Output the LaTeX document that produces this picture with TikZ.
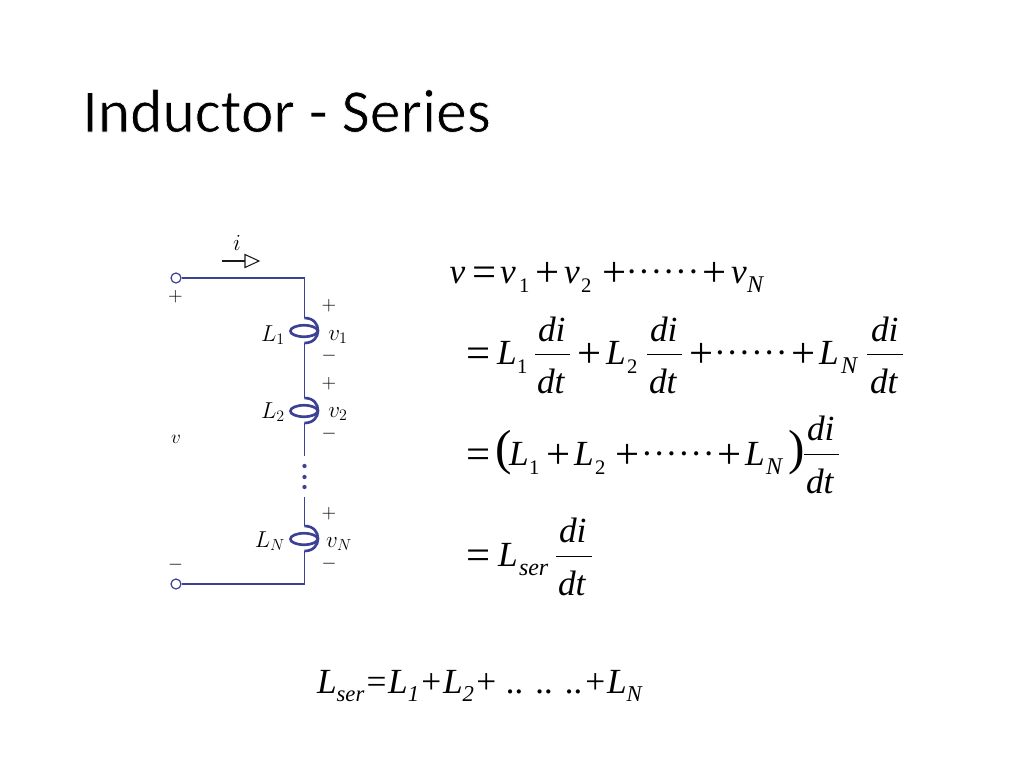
\documentclass[tikz,border=0pt]{standalone}
\usepackage{fontspec}
\setmainfont{Liberation Serif}
\newfontfamily\titlefont{Carlito}
\definecolor{wire}{HTML}{3C4196}
\definecolor{ink}{HTML}{1A1A1A}
\tikzset{
  x=0.75pt,y=-0.75pt,
  eq/.style={anchor=base west,inner sep=0pt,outer sep=0pt,text=black,font=\fontsize{26.5}{30}\selectfont},
  op/.style={eq,font=\fontsize{32}{34}\selectfont,yshift=-2.6pt},
  eqsub/.style={anchor=base west,inner sep=0pt,outer sep=0pt,text=black,font=\fontsize{15.5}{18}\selectfont},
  eqsubi/.style={eqsub,font=\fontsize{18}{20}\selectfont\itshape},
  bot/.style={anchor=base west,inner sep=0pt,outer sep=0pt,text=black,font=\fontsize{26.5}{30}\selectfont},
  ckt/.style={inner sep=0pt,outer sep=0pt,text=black,font=\fontsize{14}{16}\selectfont},
  cktb/.style={inner sep=0pt,outer sep=0pt,text=black,font=\fontsize{17}{19}\selectfont},
  wireline/.style={draw=wire,line width=1.1pt},
  coilline/.style={draw=wire,line width=2pt},
  term/.style={circle,draw=wire,line width=0.9pt,fill=white,minimum size=7.5pt,inner sep=0pt},
  bar/.style={draw=black,line width=0.75pt},
  dotn/.style={circle,fill=wire,minimum size=3.2pt,inner sep=0pt}
}
\newcommand{\sixdots}{\textperiodcentered\kern0.45pt\textperiodcentered\kern0.45pt\textperiodcentered\kern0.45pt\textperiodcentered\kern0.45pt\textperiodcentered\kern0.45pt\textperiodcentered}
\newcommand{\coilpath}[2]{% x ytop
  \draw[coilline] (#1,#2) .. controls (#1+9,#2) and (#1+13.5,#2+6) .. (#1+13.5,#2+12.5)
    .. controls (#1+13.5,#2+19) and (#1+9,#2+25) .. (#1,#2+25);
  \draw[coilline] (#1-0.5,#2+13) ellipse [x radius=10.2pt,y radius=4.3pt];}
\newcommand{\bsub}[1]{\raisebox{-6pt}{\fontsize{17}{19}\selectfont #1}}
\begin{document}
\begin{tikzpicture}
\useasboundingbox (0,0) rectangle (1024,768);
\fill[white] (0,0) rectangle (1024,768);
% title
\node[anchor=base west,inner sep=0pt,text=black,font=\titlefont\fontsize{46.2}{50}\selectfont] (title) at (82,132) {\special{pdf:code q 2 Tr 0.5 w 1 1 1 RG}Inductor - Series\special{pdf:code Q}};
% circuit nodes
\node[term] (t1) at (176,278) {};
\node[term] (t2) at (176,584) {};
\coordinate (cTop) at (304.5,278);
\coordinate (cBot) at (304.5,584);
\coordinate (a1) at (304.5,318);
\coordinate (b1) at (304.5,343);
\coordinate (a2) at (304.5,398);
\coordinate (b2) at (304.5,423);
\coordinate (w1) at (304.5,456);
\coordinate (w2) at (304.5,497);
\coordinate (a3) at (304.5,526);
\coordinate (b3) at (304.5,551);
\draw[wireline] (t1) -- (cTop) -- (a1);
\draw[wireline] (b1) -- (a2);
\draw[wireline] (b2) -- (w1);
\draw[wireline] (w2) -- (a3);
\draw[wireline] (b3) -- (cBot) -- (t2);
\coilpath{304.5}{318}
\coilpath{304.5}{398}
\coilpath{304.5}{526}
\node[dotn] (d1) at (304.5,466) {};
\node[dotn] (d2) at (304.5,477) {};
\node[dotn] (d3) at (304.5,487) {};
% current arrow
\coordinate (ar1) at (222,261);
\coordinate (ar2) at (245,261);
\draw[ink,line width=0.8pt] (ar1) -- (ar2);
\draw[ink,line width=0.8pt] (245,254.5) -- (259,261) -- (245,267.5) -- cycle;
% circuit labels
\node[cktb] (li) at (237,243) {$i$};
\node[ckt] (p0) at (175.5,297) {$+$};
\node[ckt] (m0) at (175.5,565) {$-$};
\node[cktb,font=\fontsize{15}{17}\selectfont] (lv) at (176,439) {$v$};
\node[ckt] (p1) at (329,306) {$+$};
\node[ckt] (m1) at (329,356) {$-$};
\node[ckt] (p2) at (329,384) {$+$};
\node[ckt] (m2) at (329,434) {$-$};
\node[ckt] (p3) at (329,514) {$+$};
\node[ckt] (m3) at (329,564) {$-$};
\node[cktb] (L1) at (273,335) {$L_1$};
\node[cktb] (v1) at (338,337) {$v_1$};
\node[cktb] (L2) at (273,412) {$L_2$};
\node[cktb] (v2) at (338,414) {$v_2$};
\node[cktb] (LN) at (270,541) {$L_N$};
\node[cktb] (vN) at (339,544) {$v_N$};
% equation line 1
\node[eq] (e1a) at (449.5,283) {\itshape v};
\node[op] (e1b) at (472,283) {=};
\node[eq] (e1c) at (500,283) {\itshape v};
\node[eqsub] (e1d) at (519,292) {1};
\node[op] (e1e) at (535,283) {+};
\node[eq] (e1f) at (564,283) {\itshape v};
\node[eqsub] (e1g) at (581,292) {2};
\node[op] (e1h) at (602,283) {+};
\node[eq] (e1i) at (625.8,283) {\sixdots};
\node[op] (e1j) at (702,283) {+};
\node[eq] (e1k) at (731,283) {\itshape v};
\node[eqsubi] (e1l) at (747,292) {N};
% equation line 2
\node[op] (e2a) at (466,364) {=};
\node[eq] (e2b) at (497,364) {\itshape L};
\node[eqsub] (e2c) at (517,373) {1};
\node[eq] (e2d) at (538,341) {\itshape di};
\draw[bar] (535,354) -- (570,354);
\node[eq] (e2e) at (537,393) {\itshape dt};
\node[op] (e2f) at (577,364) {+};
\node[eq] (e2g) at (606,364) {\itshape L};
\node[eqsub] (e2h) at (627,373) {2};
\node[eq] (e2i) at (650,341) {\itshape di};
\draw[bar] (647,354) -- (682,354);
\node[eq] (e2j) at (649,393) {\itshape dt};
\node[op] (e2k) at (689,364) {+};
\node[eq] (e2l) at (714,364) {\sixdots};
\node[op] (e2m) at (791,364) {+};
\node[eq] (e2n) at (819,364) {\itshape L};
\node[eqsubi] (e2o) at (841,373) {N};
\node[eq] (e2p) at (871,341) {\itshape di};
\draw[bar] (867,354) -- (903,354);
\node[eq] (e2q) at (870,393) {\itshape dt};
% equation line 3
\node[op] (e3a) at (466,465) {=};
\node[eq,font=\fontsize{37}{40}\selectfont] (e3b) at (495,464) {(};
\node[eq] (e3c) at (509,465) {\itshape L};
\node[eqsub] (e3d) at (529,474) {1};
\node[op] (e3e) at (546,465) {+};
\node[eq] (e3f) at (574,465) {\itshape L};
\node[eqsub] (e3g) at (595,474) {2};
\node[op] (e3h) at (615,465) {+};
\node[eq] (e3i) at (641,465) {\sixdots};
\node[op] (e3j) at (717,465) {+};
\node[eq] (e3k) at (745,465) {\itshape L};
\node[eqsubi] (e3l) at (766,474) {N};
\node[eq,font=\fontsize{37}{40}\selectfont] (e3m) at (788,464) {)};
\node[eq] (e3n) at (807,440) {\itshape di};
\draw[bar] (804,454) -- (839,454);
\node[eq] (e3o) at (806,493) {\itshape dt};
% equation line 4
\node[op] (e4a) at (466,566) {=};
\node[eq] (e4b) at (498,566) {\itshape L};
\node[eqsubi] (e4c) at (519,575) {ser};
\node[eq] (e4d) at (559,542) {\itshape di};
\draw[bar] (556,556) -- (592,556);
\node[eq] (e4e) at (558,595) {\itshape dt};
% bottom line
\node[bot] (bl) at (317,693) {\itshape L\bsub{ser}=L\bsub{1}+L\bsub{2}+ .. .. ..+L\bsub{N}};
\end{tikzpicture}
\end{document}
